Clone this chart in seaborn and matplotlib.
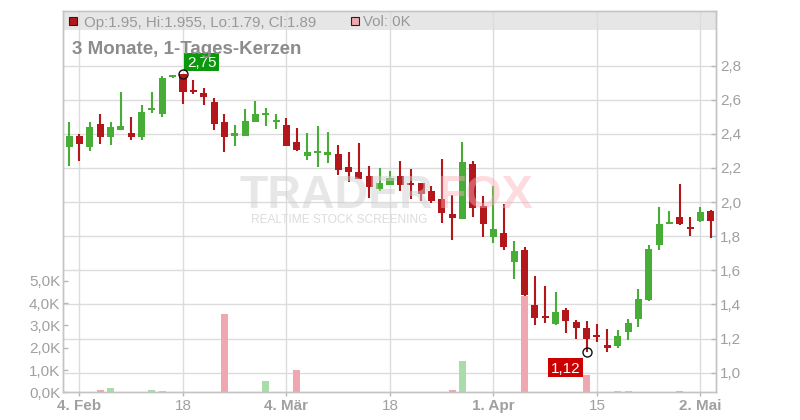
import numpy as np
import pandas as pd
import matplotlib
matplotlib.use("Agg")
import matplotlib.pyplot as plt
import seaborn as sns
from matplotlib.patches import Rectangle
from matplotlib.transforms import ScaledTranslation

# ---------------- data (daily candles, 1 Feb - 3 May) ----------------
opens = [2.325, 2.388, 2.325, 2.459, 2.384, 2.425, 2.406, 2.384, 2.543, 2.514,
         2.735, 2.749, 2.659, 2.641, 2.588, 2.471, 2.386, 2.388, 2.471, 2.512,
         2.473, 2.451, 2.351, 2.271, 2.290, 2.278, 2.280, 2.204, 2.175, 2.151,
         2.075, 2.100, 2.151, 2.112, 2.110, 2.063, 2.016, 1.933, 1.900, 2.222,
         1.975, 1.794, 1.816, 1.647, 1.722, 1.398, 1.333, 1.287, 1.369, 1.298,
         1.263, 1.218, 1.163, 1.159, 1.241, 1.312, 1.424, 1.747, 1.871, 1.914,
         1.851, 1.892, 1.950]
highs = [2.471, 2.400, 2.471, 2.518, 2.471, 2.643, 2.500, 2.571, 2.647, 2.741,
         2.745, 2.750, 2.718, 2.671, 2.610, 2.518, 2.449, 2.545, 2.592, 2.551,
         2.516, 2.492, 2.433, 2.404, 2.447, 2.410, 2.333, 2.294, 2.345, 2.210,
         2.202, 2.180, 2.240, 2.192, 2.110, 2.092, 2.251, 2.039, 2.351, 2.239,
         2.033, 2.092, 1.986, 1.769, 1.737, 1.569, 1.510, 1.475, 1.380, 1.308,
         1.304, 1.286, 1.257, 1.251, 1.316, 1.492, 1.749, 1.969, 1.945, 2.104,
         1.910, 1.969, 1.955]
lows = [2.214, 2.243, 2.302, 2.343, 2.337, 2.425, 2.365, 2.365, 2.525, 2.496,
        2.730, 2.573, 2.635, 2.567, 2.424, 2.296, 2.326, 2.388, 2.471, 2.447,
        2.427, 2.329, 2.298, 2.247, 2.206, 2.229, 2.159, 2.118, 2.135, 2.024,
        2.065, 2.100, 2.064, 2.016, 2.004, 1.994, 1.876, 1.776, 1.900, 1.910,
        1.798, 1.759, 1.718, 1.547, 1.418, 1.282, 1.294, 1.282, 1.235, 1.200,
        1.120, 1.180, 1.124, 1.147, 1.194, 1.265, 1.418, 1.722, 1.871, 1.865,
        1.804, 1.882, 1.790]
closes = [2.388, 2.343, 2.441, 2.384, 2.441, 2.447, 2.384, 2.529, 2.548, 2.729,
          2.741, 2.643, 2.643, 2.614, 2.455, 2.384, 2.407, 2.475, 2.516, 2.522,
          2.475, 2.329, 2.306, 2.292, 2.292, 2.292, 2.188, 2.176, 2.135, 2.088,
          2.110, 2.139, 2.100, 2.104, 2.047, 2.006, 1.935, 1.906, 2.233, 1.965,
          1.871, 1.841, 1.735, 1.716, 1.453, 1.318, 1.324, 1.356, 1.300, 1.264,
          1.199, 1.208, 1.147, 1.216, 1.290, 1.433, 1.727, 1.869, 1.886, 1.871,
          1.841, 1.943, 1.890]
volumes_k = [0, 0, 0, 0.10, 0.19, 0, 0, 0, 0.10, 0.06,
             0, 0, 0, 0, 0, 3.51, 0, 0, 0, 0.51,
             0, 0, 1.00, 0, 0, 0, 0, 0, 0, 0,
             0, 0, 0, 0, 0, 0, 0, 0.10, 1.40, 0,
             0, 0, 0, 0, 4.33, 0, 0, 0, 0, 0,
             0.78, 0, 0, 0.05, 0.08, 0, 0, 0, 0, 0.08,
             0, 0, 0]

tick_pos = [1, 11, 21, 31, 41, 51, 61]
tick_labels = ["4. Feb", "18", "4. Mär", "18", "1. Apr", "15", "2. Mai"]
tick_bold = [True, False, True, False, True, False, True]
price_ticks = [1.0, 1.2, 1.4, 1.6, 1.8, 2.0, 2.2, 2.4, 2.6, 2.8]
vol_ticks = [0, 1, 2, 3, 4, 5]

high_idx, high_val = 11, 2.75
low_idx, low_val = 50, 1.12
# ---------------------------------------------------------------------

sns.set_theme(style="white")
plt.rcParams["font.family"] = ["Liberation Sans", "DejaVu Sans"]

GREEN = "#48ad36"
RED = "#b3171b"
VGREEN = "#a9dca9"
VRED = "#f0a8b0"
GRID = "#dcdcdc"
SPINE = "#c4c4c4"
TXT = "#a0a0a0"

W, H = 800, 420
fig = plt.figure(figsize=(8, 4.2), dpi=100)
L, R, T, B = 63, 716, 11, 392.3
ax = fig.add_axes([L / W, 1 - B / H, (R - L) / W, (B - T) / H])
ax.set_facecolor("white")

n = len(opens)
pos = np.arange(n)
o = np.array(opens); c = np.array(closes)
h = np.array(highs); lo = np.array(lows)
up = c >= o
cols = np.where(up, GREEN, RED)

# legend band
ax.add_patch(Rectangle((0, (B - 30) / (B - T)), 1, 1, transform=ax.transAxes,
                       facecolor="#e6e6e6", edgecolor="none", zorder=0.1))

# watermark
def px(x, y):
    return x / W, 1 - y / H

fig.text(*px(240, 207.5), "TRADER", fontsize=33.5, fontweight="bold",
         color="#d0d0d0", alpha=0.5, ha="left", va="baseline", zorder=0.2)
fig.text(*px(438, 207.5), "FOX", fontsize=33.5, fontweight="bold",
         color="#fbb0b8", alpha=0.45, ha="left", va="baseline", zorder=0.2)
sub = "REALTIME STOCK SCREENING"
fig.text(*px(339, 223), sub, fontsize=8.6,
         color="#dcdcdc", ha="center", va="baseline", zorder=0.2)

# candles
ax.vlines(pos, lo, h, colors=cols, linewidth=1.5, zorder=2)
bottoms = np.minimum(o, c)
heights = np.abs(c - o)
minh = 0.012
small = heights < minh
bottoms = np.where(small, (o + c) / 2 - minh / 2, bottoms)
heights = np.where(small, minh, heights)
ax.bar(pos, heights, bottom=bottoms, width=0.68, color=cols, linewidth=0, zorder=3)

ax.set_ylim(0.885, 3.120)
ax.set_axisbelow(True)
ax.grid(True, color=GRID, linewidth=1)

# volume on twin axis
ax_v = ax.twinx()
df = pd.DataFrame({"pos": pos, "vol": volumes_k,
                   "dir": np.where(up, "up", "down")})
sns.barplot(data=df, x="pos", y="vol", hue="dir", order=list(pos),
            hue_order=["up", "down"], palette={"up": VGREEN, "down": VRED},
            dodge=False, width=0.68, errorbar=None, legend=False,
            saturation=1, linewidth=0, ax=ax_v)
ax_v.set_ylim(0, 17.1)
ax_v.set_xlabel(""); ax_v.set_ylabel("")
ax_v.grid(False)

ax.set_xlim(-0.594, 62.5)
ax.set_xticks(tick_pos)
ax.set_xticklabels(tick_labels)
for lab, b in zip(ax.get_xticklabels(), tick_bold):
    lab.set_fontweight("bold" if b else "normal")
ax.set_xlabel(""); ax.set_ylabel("")

ax.yaxis.tick_right()
ax.set_yticks(price_ticks)
ax.set_yticklabels([f"{v:.1f}".replace(".", ",") for v in price_ticks])
ax.tick_params(axis="y", direction="in", length=3.5, width=1, color="#b8b8b8",
               labelsize=11, labelcolor=TXT, pad=3, right=True, left=False)
ax.tick_params(axis="x", direction="out", length=3, width=1, color="#b8b8b8",
               labelsize=11, labelcolor=TXT, pad=1.5, bottom=True)

ax_v.yaxis.tick_left()
ax_v.set_yticks(vol_ticks)
ax_v.set_yticklabels([f"{v:.1f}".replace(".", ",") + "K" for v in vol_ticks])
ax_v.tick_params(axis="y", direction="in", length=3.5, width=1, color="#b8b8b8",
                 labelsize=11, labelcolor=TXT, pad=2, left=True, right=False)

for a in (ax, ax_v):
    for s in a.spines.values():
        s.set_color(SPINE)
        s.set_linewidth(1)
ax.spines["top"].set_color("#cfcfcf")

# extreme markers and labels
for idx, val, fc, label, rx, ry, rw, rh in [
        (high_idx, high_val, "#0b990b", "2,75", 1.5, 3.5, 35, 18),
        (low_idx, low_val, "#cc0000", "1,12", -38.2, -24.8, 35, 19)]:
    base = fig.dpi_scale_trans + ScaledTranslation(idx, val, ax.transData)
    ax_v.add_patch(Rectangle((rx / 100, ry / 100), rw / 100, rh / 100,
                             transform=base, facecolor=fc, edgecolor="none",
                             zorder=6, clip_on=False))
    ax_v.text((rx + rw / 2) / 100, (ry + rh / 2) / 100, label, transform=base,
              color="white", fontsize=11, ha="center", va="center_baseline",
              zorder=7)
    ax_v.plot([idx], [val], marker="o", ms=6.5, mfc="none", mec="#111111",
              mew=1, transform=ax.transData, zorder=6, clip_on=False)

# header texts
fig.add_artist(Rectangle(px(68.5, 25), 8 / W, 8 / H, transform=fig.transFigure,
                         facecolor=RED, edgecolor="#222222", linewidth=0.8))
fig.text(*px(84, 21), f"Op:{o[-1]:g}, Hi:{h[-1]:g}, Lo:{lo[-1]:g}, Cl:{c[-1]:g}",
         fontsize=10.8, color="#999999", ha="left", va="center_baseline")
fig.add_artist(Rectangle(px(351, 25), 8 / W, 8 / H, transform=fig.transFigure,
                         facecolor=VRED, edgecolor="#222222", linewidth=0.8))
fig.text(*px(363, 21), f"Vol: {volumes_k[-1]:g}K", fontsize=10.8,
         color="#999999", ha="left", va="center_baseline")
fig.text(*px(72.5, 48), "3 Monate, 1-Tages-Kerzen", fontsize=13.5,
         fontweight="bold", color="#8c8c8c", ha="left", va="center_baseline")

fig.savefig("out.png", dpi=100)
